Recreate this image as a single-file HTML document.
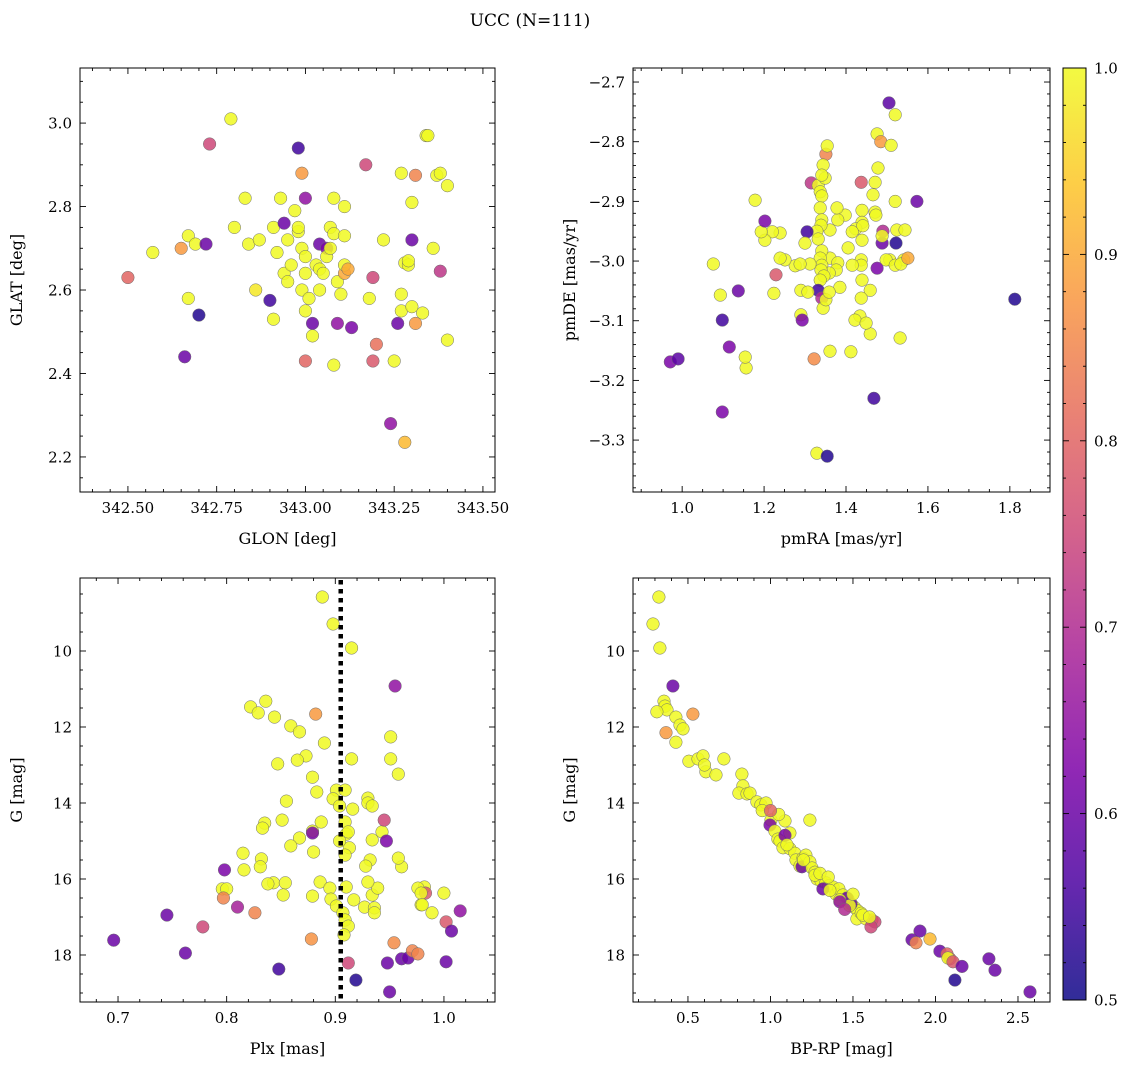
<!DOCTYPE html>
<html><head><meta charset="utf-8"><title>UCC (N=111)</title>
<style>
html,body{margin:0;padding:0;background:#fff;}
svg{display:block;font-family:"DejaVu Serif","Liberation Serif",serif;}
</style></head>
<body>
<svg id="fig" width="1136" height="1068" viewBox="0 0 1136 1068" xmlns="http://www.w3.org/2000/svg">
<text x="530" y="26" font-size="17" text-anchor="middle">UCC (N=111)</text>
</svg>
<script>
// ---------- Panel 1: GLON / GLAT ----------
const glon = [342.50,342.57,342.65,342.67,342.69,342.72,342.67,342.70,342.66,342.73,
342.79,342.80,342.83,342.84,342.86,342.87,342.90,342.91,342.91,342.93,
342.92,342.94,342.95,342.94,342.95,342.96,342.97,342.98,342.98,342.99,
343.0,342.98,342.99,343.0,343.0,342.99,343.01,343.0,343.02,343.02,
343.0,343.04,343.03,343.04,343.05,343.06,343.06,343.04,343.07,343.08,
343.07,343.08,343.08,343.09,343.10,343.11,343.11,343.11,343.11,343.09,
343.13,343.17,343.18,343.19,343.20,343.22,343.24,343.26,343.27,343.27,
343.27,343.28,343.29,343.29,343.30,343.31,343.30,343.33,343.34,343.345,
343.36,343.37,343.38,343.40,343.38,343.40,343.25,343.19,343.28,343.31,
343.30,343.12];
const glat = [2.63,2.69,2.70,2.73,2.71,2.71,2.58,2.54,2.44,2.95,
3.01,2.75,2.82,2.71,2.60,2.72,2.575,2.53,2.75,2.82,
2.69,2.76,2.72,2.64,2.62,2.66,2.79,2.74,2.94,2.88,
2.82,2.75,2.70,2.68,2.64,2.60,2.58,2.55,2.52,2.49,
2.43,2.71,2.66,2.65,2.64,2.70,2.68,2.60,2.75,2.82,
2.70,2.735,2.42,2.62,2.59,2.73,2.64,2.66,2.80,2.52,
2.51,2.90,2.58,2.63,2.47,2.72,2.28,2.52,2.88,2.59,
2.55,2.665,2.66,2.67,2.81,2.875,2.72,2.545,2.97,2.97,
2.70,2.875,2.88,2.85,2.645,2.48,2.43,2.43,2.235,2.52,
2.56,2.65];
const prob1 = [.8,1,.88,1,1,.6,1,.52,.6,.75,
1,1,1,1,.98,1,.55,1,1,1,
1,.6,1,1,1,1,1,1,.55,.88,
.65,1,1,1,1,1,1,1,.6,1,
.8,.6,1,1,1,.62,1,1,1,1,
1,1,1,1,1,1,.9,1,1,.65,
.62,.75,1,.75,.82,1,.65,.6,1,1,
1,1,1,1,1,.85,.6,1,1,1,
1,1,1,1,.72,1,1,.78,.92,.88,
1,.9];

// ---------- Panel 2: pmRA / pmDE ----------
const pmra = [1.812,1.505,1.52,1.573,1.52,1.476,1.485,1.51,1.478,1.471,
1.466,1.471,1.473,1.488,1.522,1.49,1.488,1.507,1.498,1.524,
1.541,1.544,1.52,1.534,1.551,1.532,1.476,1.459,1.468,1.385,
1.434,1.422,1.449,1.459,1.437,1.439,1.439,1.424,1.441,1.439,
1.437,1.437,1.439,1.437,1.415,1.405,1.415,1.398,1.38,1.378,
1.361,1.361,1.38,1.376,1.359,1.315,1.332,1.349,1.351,1.354,
1.344,1.341,1.337,1.341,1.337,1.341,1.339,1.329,1.332,1.341,
1.337,1.341,1.339,1.346,1.337,1.332,1.341,1.344,1.351,1.359,
1.361,1.305,1.30,1.29,1.29,1.293,1.307,1.312,1.276,1.288,
1.251,1.239,1.229,1.224,1.239,1.22,1.202,1.193,1.178,1.202,
1.137,1.093,1.076,1.098,1.115,1.098,1.156,1.154,0.971,0.99,
1.329,1.354,1.322,1.412];
const pmde = [-3.064,-2.735,-2.755,-2.90,-2.90,-2.787,-2.80,-2.806,-2.844,-2.868,
-2.889,-2.918,-2.923,-2.97,-2.97,-2.95,-2.958,-2.998,-2.998,-2.948,
-2.998,-2.948,-3.007,-3.005,-2.995,-3.129,-3.012,-3.122,-3.23,-3.044,
-3.092,-3.099,-3.104,-3.049,-2.868,-2.915,-2.935,-2.946,-2.941,-2.965,
-2.998,-3.007,-3.032,-3.062,-2.951,-2.978,-3.007,-2.923,-2.931,-2.911,
-2.948,-2.995,-3.003,-3.015,-3.02,-2.869,-2.873,-2.861,-2.821,-2.807,
-2.839,-2.856,-2.884,-2.891,-2.911,-2.931,-2.94,-2.95,-2.963,-2.983,
-2.995,-3.007,-3.015,-3.025,-3.032,-3.049,-3.062,-3.079,-3.065,-3.052,
-3.151,-2.951,-2.97,-3.049,-3.09,-3.099,-3.052,-3.005,-3.008,-3.005,
-2.998,-2.995,-3.023,-3.054,-2.953,-2.951,-2.965,-2.951,-2.898,-2.933,
-3.05,-3.057,-3.005,-3.099,-3.144,-3.253,-3.179,-3.161,-3.169,-3.164,
-3.322,-3.327,-3.164,-3.152];
const prob2 = [.52,.58,1,.6,1,1,.88,1,1,1,
1,1,1,.6,.52,.7,1,1,1,1,
1,1,1,1,.9,1,.62,1,.55,1,
1,1,1,1,.78,1,1,1,1,1,
1,1,1,1,1,1,1,1,1,1,
1,1,1,1,1,.72,1,1,.85,1,
1,1,1,1,1,1,1,1,1,1,
1,1,1,1,1,.55,.7,1,1,1,
1,.55,1,1,1,.62,1,1,1,1,
1,1,.78,1,1,1,1,1,1,.62,
.6,1,1,.55,.62,.62,1,1,.62,.58,
1,.52,.86,1];

// ---------- Panel 3: Plx / G ----------
const plx = [0.888,0.898,0.915,0.955,0.836,0.822,0.829,0.844,0.882,0.859,
0.867,0.873,0.865,0.847,0.890,0.901,0.898,0.904,0.909,0.879,
0.883,0.887,0.879,0.867,0.851,0.835,0.855,0.951,0.951,0.958,
0.915,0.910,0.916,0.909,0.912,0.913,0.909,0.930,0.930,0.934,
0.943,0.934,0.932,0.928,0.879,0.945,0.947,0.859,0.833,0.832,
0.831,0.815,0.816,0.843,0.854,0.852,0.838,0.880,0.879,0.886,
0.895,0.896,0.901,0.907,0.909,0.912,0.917,0.927,0.934,0.939,
0.936,0.936,0.910,0.798,0.796,0.80,0.797,0.81,0.826,0.778,
0.745,0.762,0.696,0.848,0.878,0.908,0.912,0.919,0.948,0.950,
0.954,0.961,0.967,0.971,0.976,0.982,0.979,0.976,0.983,0.979,
0.989,0.980,1.0,1.002,1.007,1.015,1.002,0.961,0.958,0.93,0.904];
const gmag3 = [8.58,9.29,9.92,10.92,11.32,11.47,11.63,11.74,11.66,11.97,
12.13,12.76,12.87,12.97,12.42,13.66,13.89,14.08,13.66,13.32,
13.71,14.5,14.74,14.92,14.45,14.53,13.95,12.26,12.84,13.24,
12.84,14.82,14.16,14.5,14.76,15.18,15.37,13.87,14.0,14.08,
14.76,14.97,15.5,15.66,14.79,14.45,15.0,15.13,14.66,15.47,
15.68,15.32,15.76,16.1,16.1,16.42,16.13,15.29,16.45,16.08,
16.24,16.53,16.71,16.89,17.08,17.24,16.55,16.74,16.42,16.24,
16.76,16.89,16.21,15.76,16.26,16.26,16.5,16.74,16.89,17.26,
16.95,17.95,17.61,18.37,17.58,17.47,18.21,18.66,18.21,18.97,
17.68,18.1,18.08,17.89,17.97,16.21,16.68,16.24,16.37,16.37,
16.89,16.68,16.37,17.13,17.37,16.84,18.18,15.68,15.45,16.08,15.0];
const prob3 = [1,1,1,.65,1,1,1,1,.88,1,
1,1,1,1,1,1,1,1,1,1,
1,1,1,1,1,1,1,1,1,1,
1,1,1,1,1,1,1,1,1,1,
1,1,1,1,.62,.75,.62,1,1,1,
1,1,1,1,1,1,1,1,1,1,
1,1,1,1,1,1,1,1,1,1,
1,1,1,.62,1,1,.85,.68,.85,.75,
.6,.6,.6,.55,.87,1,.75,.52,.6,.6,
.86,.6,.6,.85,.85,1,1,1,.78,1,
1,1,1,.78,.6,.65,.6,1,1,1,1];

// ---------- Panel 4: BP-RP / G ----------
const bprp = [0.324,0.288,0.33,0.409,0.355,0.361,0.373,0.312,0.367,0.427,
0.452,0.427,0.53,0.47,0.506,0.561,0.591,0.609,0.67,0.718,
0.827,0.833,0.809,0.858,0.876,0.918,0.942,0.973,1.003,0.997,
1.088,1.118,1.027,1.045,1.058,1.076,1.239,1.118,1.148,1.155,
1.179,1.197,1.215,1.191,1.239,1.252,1.27,1.282,1.306,1.336,
1.355,1.379,1.397,1.415,1.439,1.47,1.494,1.512,1.53,1.488,
1.524,1.579,1.615,1.633,1.609,1.858,1.906,1.967,1.882,2.027,
2.07,2.088,2.076,2.106,2.118,2.161,2.324,2.361,2.573,1.088,
1.318,1.464,1.27,1.36,1.42,1.55,1.2,1.3,1.48,1.56,
1.1,1.35,0.95,1.05,1.42,1.5,1.45,1.6,1.0,0.6];
const gmag4 = [8.58,9.29,9.92,10.92,11.32,11.45,11.55,11.6,12.15,11.74,
11.95,12.4,11.66,12.05,12.9,12.84,12.76,13.18,13.26,12.84,
13.24,13.55,13.74,13.76,13.74,13.97,14.05,14.0,14.45,14.58,
14.47,14.79,14.74,14.95,15.0,15.18,14.45,15.2,15.32,15.5,
15.66,15.45,15.37,15.68,15.55,15.71,15.82,16.0,16.05,16.1,
16.18,16.21,16.4,16.26,16.42,16.53,16.68,16.76,16.84,16.66,
17.05,17.05,17.08,17.13,17.26,17.6,17.37,17.58,17.68,17.9,
17.97,18.1,18.08,18.18,18.66,18.3,18.1,18.4,18.97,14.85,
16.26,16.5,15.9,16.3,16.55,16.9,15.5,15.85,16.7,16.95,
15.1,15.95,14.2,14.3,16.6,16.4,16.8,17.0,14.2,13.0];
const prob4 = [1,1,1,.6,1,1,1,1,.88,1,
1,1,.88,1,1,1,1,1,1,1,
1,1,1,1,1,1,1,1,1,.62,
1,1,1,1,1,1,1,1,1,1,
1,1,1,.6,1,1,1,1,1,1,
1,1,1,1,1,1,1,1,1,.6,
1,1,.85,.75,.75,.6,.6,.92,.85,.6,
.8,.8,1,.78,.52,.6,.6,.6,.6,.62,
.6,.6,1,1,1,1,1,1,1,1,
1,1,1,1,.65,1,.7,1,.8,1];

// ---------- Tick values ----------
const p1xTicks = [342.5,342.75,343.0,343.25,343.5];
const p1yTicks = [2.2,2.4,2.6,2.8,3.0];
const p2xTicks = [1.0,1.2,1.4,1.6,1.8];
const p2yTicks = [-3.3,-3.2,-3.1,-3.0,-2.9,-2.8,-2.7];
const p3xTicks = [0.7,0.8,0.9,1.0];
const gTicks = [10,12,14,16,18];
const p4xTicks = [0.5,1.0,1.5,2.0,2.5];
const cbTicks = [0.5,0.6,0.7,0.8,0.9,1.0];
const plxLine = [0.905];

const NS = "http://www.w3.org/2000/svg";
const svg = document.getElementById('fig');
function mk(tag, attrs, parent){
  const e = document.createElementNS(NS, tag);
  for (const k in attrs) e.setAttribute(k, attrs[k]);
  (parent||svg).appendChild(e);
  return e;
}
const stops = ["#0d0887","#4c02a1","#7e03a8","#a82296","#cc4778","#e56b5d","#f89540","#fdc527","#f0f921"];
function hex(h){return [parseInt(h.substr(1,2),16),parseInt(h.substr(3,2),16),parseInt(h.substr(5,2),16)];}
function plasma(t){
  t=Math.max(0,Math.min(1,t));
  const f=t*(stops.length-1), i=Math.min(stops.length-2,Math.floor(f)), r=f-i;
  const a=hex(stops[i]), b=hex(stops[i+1]);
  return "rgb("+a.map((v,k)=>Math.round(v+(b[k]-v)*r)).join(",")+")";
}
function pcolor(p){return plasma((p-0.5)/0.5);}
function fmtMinus(s){return s.replace('-','\u2212');}

function panel(name, box, xd, yd, xt, yt, xminor, yminor, xdec, ydec, xs, ys, cs, xlabel, ylabel){
  const g = mk('g',{});
  
  
  const sx = v => box.l + (v - xd[0])/(xd[1]-xd[0])*(box.r-box.l);
  const sy = v => box.b - (v - yd[0])/(yd[1]-yd[0])*(box.b-box.t);
  const pts = mk('g',{},g);
  
  
  for (let i=0;i<xs.length;i++){
    const c = mk('circle',{cx:sx(xs[i]).toFixed(1),cy:sy(ys[i]).toFixed(1),r:6.3,fill:pcolor(cs[i]),'fill-opacity':0.85,stroke:'#6e6e6e','stroke-width':0.5},pts);
    
    
  }
  const fr = mk('rect',{x:box.l,y:box.t,width:box.r-box.l,height:box.b-box.t,fill:'none',stroke:'#000','stroke-width':1},g);
  
  
  const tg = mk('g',{stroke:'#000','stroke-width':0.9},g);
  const xlo=Math.min(xd[0],xd[1]), xhi=Math.max(xd[0],xd[1]);
  const ylo=Math.min(yd[0],yd[1]), yhi=Math.max(yd[0],yd[1]);
  const isMajor=(v,arr)=>arr.some(m=>Math.abs(m-v)<1e-6);
  for (let k=Math.ceil(xlo/xminor); k*xminor<=xhi; k++){
    const v=k*xminor; if(isMajor(v,xt)) continue; const X=sx(v);
    mk('line',{x1:X,x2:X,y1:box.b,y2:box.b-3},tg); mk('line',{x1:X,x2:X,y1:box.t,y2:box.t+3},tg);
  }
  for (let k=Math.ceil(ylo/yminor); k*yminor<=yhi; k++){
    const v=k*yminor; if(isMajor(v,yt)) continue; const Y=sy(v);
    mk('line',{x1:box.l,x2:box.l+3,y1:Y,y2:Y},tg); mk('line',{x1:box.r,x2:box.r-3,y1:Y,y2:Y},tg);
  }
  xt.forEach(v=>{
    const X=sx(v);
    mk('line',{x1:X,x2:X,y1:box.b,y2:box.b-6},tg); mk('line',{x1:X,x2:X,y1:box.t,y2:box.t+6},tg);
    const t=mk('text',{x:X,y:box.b+21,'font-size':15,'text-anchor':'middle'},g);
    t.textContent=fmtMinus(v.toFixed(xdec));
    
    
  });
  yt.forEach(v=>{
    const Y=sy(v);
    mk('line',{x1:box.l,x2:box.l+6,y1:Y,y2:Y},tg); mk('line',{x1:box.r,x2:box.r-6,y1:Y,y2:Y},tg);
    const t=mk('text',{x:box.l-8,y:Y+5.5,'font-size':15,'text-anchor':'end'},g);
    t.textContent=fmtMinus(v.toFixed(ydec));
    
    
  });
  const xl=mk('text',{x:(box.l+box.r)/2,y:box.b+52,'font-size':16,'text-anchor':'middle'},g);
  xl.textContent=xlabel;
  
  
  const yx = box.l-58, ymid=(box.t+box.b)/2;
  const yl=mk('text',{x:yx,y:ymid,'font-size':16,'text-anchor':'middle',transform:'rotate(-90 '+yx+' '+ymid+')'},g);
  yl.textContent=ylabel;
  
  
  return {sx,sy,g,box};
}

panel('glon-glat-panel',{l:80,r:495,t:68,b:492},[342.365,343.534],[2.116,3.132],p1xTicks,p1yTicks,0.05,0.05,2,1,glon,glat,prob1,'GLON [deg]','GLAT [deg]');
panel('pm-panel',{l:633,r:1050,t:68,b:492},[0.880,1.898],[-3.387,-2.6765],p2xTicks,p2yTicks,0.05,0.02,1,1,pmra,pmde,prob2,'pmRA [mas/yr]','pmDE [mas/yr]');
const P3 = panel('plx-g-panel',{l:80,r:495,t:578,b:1002},[0.665,1.047],[19.237,8.079],p3xTicks,gTicks,0.02,0.5,1,0,plx,gmag3,prob3,'Plx [mas]','G [mag]');
panel('cmd-panel',{l:633,r:1050,t:578,b:1002},[0.167,2.694],[19.237,8.079],p4xTicks,gTicks,0.1,0.5,1,0,bprp,gmag4,prob4,'BP-RP [mag]','G [mag]');

plxLine.forEach(v=>{
  const X=P3.sx(v);
  const l=mk('line',{x1:X,x2:X,y1:580,y2:1002,stroke:'#000','stroke-width':4.5,'stroke-dasharray':'4.5,4.5'},P3.g);
  
  
});

const defs=mk('defs',{});
const grad=mk('linearGradient',{id:'cbg',x1:0,y1:1,x2:0,y2:0},defs);
stops.forEach((s,i)=>mk('stop',{offset:(i/(stops.length-1)),'stop-color':s},grad));
const cb=mk('g',{});


const cbt=68, cbb=1000, cbl=1063, cbr=1086;
mk('rect',{x:cbl,y:cbt,width:cbr-cbl,height:cbb-cbt,fill:'url(#cbg)','fill-opacity':0.85},cb);
mk('rect',{x:cbl,y:cbt,width:cbr-cbl,height:cbb-cbt,fill:'none',stroke:'#000','stroke-width':1},cb);
const cy = v => cbb - (v-0.5)/0.5*(cbb-cbt);
for(let k=50;k<=100;k+=2){
  const v=k/100, Y=cy(v), major=(k%10===0);
  const L=major?6:3;
  mk('line',{x1:cbr,x2:cbr-L,y1:Y,y2:Y,stroke:'#000','stroke-width':0.9},cb);
  mk('line',{x1:cbl,x2:cbl+L,y1:Y,y2:Y,stroke:'#000','stroke-width':0.9},cb);
}
cbTicks.forEach(v=>{
  const t=mk('text',{x:1094,y:cy(v)+5.5,'font-size':15},cb);
  t.textContent=v.toFixed(1);
  
  
});
</script>
</body></html>
